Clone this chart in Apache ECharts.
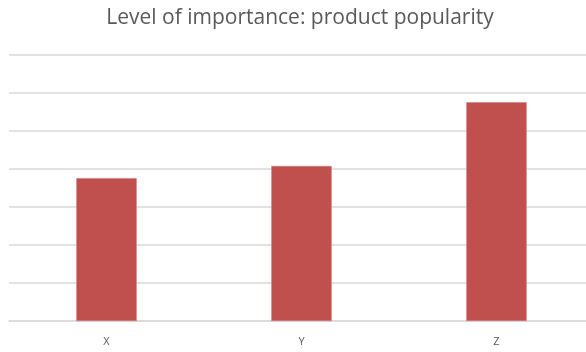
<!DOCTYPE html>
<html>
<head>
<meta charset="utf-8">
<script src="https://cdn.jsdelivr.net/npm/echarts@6/dist/echarts.min.js"></script>
<style>html,body{margin:0;padding:0;background:#fff;overflow:hidden}#c{width:600px;height:352px}</style>
</head>
<body>
<div id="c"></div>
<script>
var titleText = "Level of importance: product popularity";
var categories = ["X", "Y", "Z"];
var values = [3.76, 4.08, 5.76];
var yMin = 0, yMax = 7, yStep = 1;

var chart = echarts.init(document.getElementById('c'), null, {renderer: 'canvas'});
chart.setOption({
  animation: false,
  backgroundColor: '#ffffff',
  title: {
    text: titleText,
    left: 'center',
    top: 3,
    textStyle: {fontFamily: 'Open Sans', fontSize: 21, fontWeight: 'normal', color: '#595959'}
  },
  grid: {left: 9, right: 6, top: 55, bottom: 31, containLabel: false},
  xAxis: {
    type: 'category',
    data: categories,
    axisLine: {lineStyle: {color: '#d9d9d9', width: 1.5}},
    axisTick: {show: false},
    axisLabel: {color: '#595959', fontSize: 11, fontFamily: 'Open Sans', margin: 15}
  },
  yAxis: {
    type: 'value',
    min: yMin, max: yMax, interval: yStep,
    axisLabel: {show: false},
    axisLine: {show: false},
    axisTick: {show: false},
    splitLine: {lineStyle: {color: '#d9d9d9', width: 1.5}}
  },
  series: [{
    type: 'bar',
    data: values,
    barWidth: '31%',
    itemStyle: {color: '#c0504d', borderColor: '#d07e7c', borderWidth: 0.6}
  }]
});
</script>
</body>
</html>
